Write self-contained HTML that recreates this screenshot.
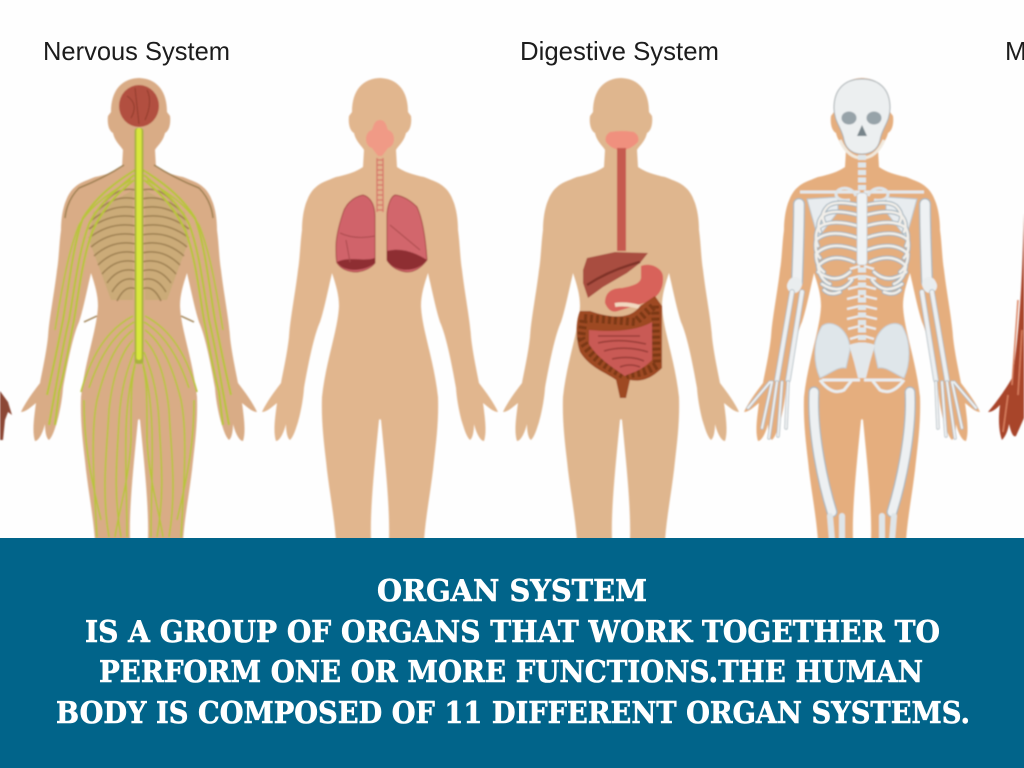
<!DOCTYPE html>
<html><head><meta charset="utf-8"><style>
html,body{margin:0;padding:0;background:#fff}
svg{display:block}
</style></head><body>
<svg width="1024" height="768" viewBox="0 0 1024 768" xmlns="http://www.w3.org/2000/svg">
<defs>
<filter id="s" x="-5%" y="-5%" width="110%" height="110%"><feGaussianBlur stdDeviation="0.7"/></filter>
<path id="half" d="M-1,78 C17,78 28,90 28,112 L31,116 C32,124 30,131 26,133 C24,142 18,146 16,150 L17,167 C24,172 34,175 44,177 C54,181 60,183 64,187 C70,192 72,198 74,203 C77,212 78,222 78,230 C80,245 80,258 82,270 C85,295 90,320 91,337 C93,355 97,372 99,383 C106,392 114,403 118,412 C113,412 107,406 103,403 C105,418 107,432 104,441 C100,441 96,432 94,424 C94,430 93,438 90,440 C86,436 84,428 82,422 C80,415 77,402 76,388 C72,365 66,335 60,322 C56,310 52,290 48,273 C44,285 41,295 41,306 C42,330 54,360 58,397 C59,425 55,450 53,470 C50,495 46,515 44,540 L9,540 C10,510 6,470 1,420 L-1,418 Z"/>
<g id="body"><use href="#half"/><use href="#half" transform="scale(-1,1)"/></g>
<g id="nh" fill="none">
 <path d="M6,190 L46,212 L50,240 L28,300 L6,300Z" fill="#cbab78" stroke="none"/>
 <g stroke="#9c7e50" stroke-width="1.5">
  <path d="M3,190 Q20,186 34,202 M3,199 Q24,194 42,211 M3,208 Q26,203 47,220 M3,217 Q28,212 50,229 M3,226 Q28,221 50,238 M3,235 Q28,230 48,247 M3,244 Q26,239 45,256 M3,253 Q24,248 41,265 M3,262 Q22,257 37,274 M3,271 Q20,266 32,283 M3,280 Q17,275 27,292 M3,289 Q14,284 22,301"/>
  <path d="M15,165 Q35,178 60,188 Q72,200 74,218 M42,316 L55,322"/>
 </g>
 <g stroke="#b9c43a" stroke-width="2.2">
  <path d="M4,170 C20,180 42,195 56,218 C66,245 70,285 76,320 C82,350 86,370 92,395"/>
  <path d="M5,175 C20,188 38,200 50,224 C60,250 64,285 70,320 C76,345 80,370 84,392 L90,425"/>
  <path d="M5,180 C20,192 34,205 46,230 C56,255 60,290 65,320 C70,345 74,370 80,392 L84,425"/>
 </g>
 <g stroke="#b9c43a" stroke-width="1.7">
  <path d="M8,180 C28,192 48,205 60,225 C72,255 78,295 84,330"/>
  <path d="M6,316 C25,326 45,345 58,392 M5,322 C22,332 38,352 50,388"/>
  <path d="M6,330 C20,340 32,360 42,400 C48,430 46,470 42,537"/>
  <path d="M6,340 C16,350 26,372 30,410 C32,450 38,490 30,537"/>
  <path d="M5,352 C10,365 18,385 20,420 C22,460 26,490 18,537"/>
  <path d="M3,360 C7,375 12,395 13,430 C14,470 12,500 12,537"/>
  <path d="M4,366 C8,380 8,400 8,440 C10,480 20,510 24,537"/>
  <path d="M55,400 C55,440 50,470 38,520"/>
 </g>
</g>
<g id="skh">
 <path d="M24,197 L55,199 L44,238 Q32,222 24,212Z" fill="#e8ecef" stroke="#b7c3ca"/>
 <path d="M2,192 L62,192" stroke="#e4e9ec" stroke-width="3" fill="none"/>
 <path d="M6,196 C10,186 24,186 26,194 C26,200 18,201 12,200" stroke="#dfe5e9" stroke-width="3" fill="none"/>
 <g fill="none" stroke-linecap="round">
  <g stroke="#9fb0bb" stroke-width="4.5">
   <path d="M4,205 Q26,200 34,206 Q42,214 38,222 M4,215 Q30,208 40,216 Q46,224 42,232 M4,226 Q32,218 44,228 Q48,238 44,246 M4,238 Q32,228 46,240 Q48,252 42,258 M5,250 Q32,240 46,254 Q46,266 38,272 M8,262 Q30,252 44,266 Q42,280 32,284 M12,272 Q26,285 44,272 M10,280 Q22,296 40,284 M22,292 Q32,296 38,290"/>
  </g>
  <g stroke="#f1eee9" stroke-width="2.6">
   <path d="M4,205 Q26,200 34,206 Q42,214 38,222 M4,215 Q30,208 40,216 Q46,224 42,232 M4,226 Q32,218 44,228 Q48,238 44,246 M4,238 Q32,228 46,240 Q48,252 42,258 M5,250 Q32,240 46,254 Q46,266 38,272 M8,262 Q30,252 44,266 Q42,280 32,284 M12,272 Q26,285 44,272 M10,280 Q22,296 40,284 M22,292 Q32,296 38,290"/>
  </g>
  <path d="M63,204 C63,230 64,255 65,282" stroke="#a9b6bd" stroke-width="12"/>
  <path d="M63,204 C63,230 64,255 65,282" stroke="#eef1f3" stroke-width="9.5"/>
  <path d="M67,284 L68,286" stroke="#e9edef" stroke-width="14"/>
  <path d="M70,292 L85,380 M60,292 L74,380" stroke="#a9b6bd" stroke-width="5.5"/>
  <path d="M70,292 L85,380 M60,292 L74,380" stroke="#eceff1" stroke-width="4"/>
  <path d="M48,392 C50,430 40,480 30,512" stroke="#a9b6bd" stroke-width="11"/>
  <path d="M48,392 C50,430 40,480 30,512" stroke="#edf0f2" stroke-width="8.5"/>
  <path d="M32,516 L30,540 M20,516 L20,540" stroke="#dfe5e8" stroke-width="6"/>
  <path d="M74,382 L76,428 M80,382 L84,436 M85,382 L93,438 M90,382 L100,428 M92,382 L114,408" stroke="#aab6bd" stroke-width="3.4"/>
  <path d="M74,382 L76,428 M80,382 L84,436 M85,382 L93,438 M90,382 L100,428 M92,382 L114,408" stroke="#f0f2f3" stroke-width="2"/>
 </g>
 <path d="M12,350 C12,330 30,318 40,326 C50,342 48,365 42,378 C32,374 24,366 16,368 Z" fill="#dfe6ea" stroke="#c3ccd2"/>
 <path d="M2,380 L40,380 M42,380 Q30,396 18,390 L10,380" fill="none" stroke="#e9edef" stroke-width="3"/>
 <path d="M2,266 L12,269 M2,276 L14,279 M2,286 L14,289 M2,296 L15,299 M2,306 L15,309 M2,316 L15,319 M2,326 L14,329 M2,336 L12,339" stroke="#e8ecee" stroke-width="2.4"/>
</g>
</defs>
<rect width="1024" height="768" fill="#fefefe"/>
<g filter="url(#s)">
 <!-- edge figures -->
 <path d="M0,391 L8,402 L12,415 L8,412 L5,420 L3,440 L0,440Z" fill="#8c4636"/>
 <path d="M1024,213 C1022,280 1020,330 1012,378 C1004,392 994,405 988,412 C993,412 997,408 1000,405 C998,420 999,432 1002,440 C1006,436 1008,430 1009,424 C1011,432 1013,438 1016,436 L1024,418Z" fill="#a8442c"/>
 <path d="M1018,300 L1012,385 M1022,330 L1018,395 M1008,395 L1003,432" stroke="#d9805e" stroke-width="1.5" fill="none"/>
 <!-- nervous -->
 <g transform="translate(139,0)">
  <use href="#body" fill="#d9ac86"/>
  <use href="#nh"/><use href="#nh" transform="scale(-1,1)"/>
  <rect x="-4.5" y="128" width="9" height="236" rx="3" fill="#a9b23c"/>
  <rect x="-2.6" y="128" width="5.2" height="232" rx="2.5" fill="#d8e63c"/>
  <ellipse cx="0" cy="106" rx="20" ry="21" fill="#b2503f"/>
  <path d="M-12,96 Q0,104 -8,118 M8,90 Q14,102 6,120 M-4,88 L0,124" stroke="#8f3a2c" fill="none"/>
 </g>
 <!-- respiratory -->
 <g transform="translate(380,0)"><use href="#body" fill="#e1b68e"/></g>
 <path d="M380,120 C386,120 387,128 388,130 C396,132 396,146 388,148 L382,156 L378,156 L372,148 C364,146 364,132 372,130 C373,128 374,120 380,120Z" fill="#f09a86"/>
 <path d="M377,158 V212 M383,158 V212" stroke="#d8796a" stroke-width="1.4"/>
 <path d="M377,160 H383 M377,165 H383 M377,170 H383 M377,175 H383 M377,180 H383 M377,185 H383 M377,190 H383 M377,195 H383 M377,200 H383 M377,205 H383 M377,210 H383" stroke="#d8796a" stroke-width="1.4"/>
 <path d="M375,217 C375,206 371,197 363,195 C352,197 345,206 343,213 C339,225 336,236 336,247 C336,254 336,259 337,263 C342,270 350,272 357,272 C364,271 371,268 375,263 Z" fill="#d0636a" stroke="#a94a48" stroke-width="1"/>
 <path d="M387,217 C387,208 390,197 395,195 C405,196 412,202 417,207 C424,222 426,245 427,260 C421,268 414,272 407,272 C398,271 391,267 387,260 Z" fill="#d2666c" stroke="#a94a48" stroke-width="1"/>
 <path d="M337,262 C350,256 362,262 375,258 L375,263 C364,272 344,273 337,262Z" fill="#8e2d32"/>
 <path d="M387,251 C402,247 416,253 427,260 C418,272 398,274 387,261Z" fill="#8e2d32"/>
 <path d="M340,233 Q355,240 375,236 M346,240 L350,262 M390,225 Q408,240 420,250" stroke="#a94a4c" fill="none"/>
 <!-- digestive -->
 <g transform="translate(621,0)"><use href="#body" fill="#dfb68e"/></g>
 <path d="M610,132 Q622,130 634,132 Q640,136 638,142 Q630,150 622,150 Q612,150 606,142 Q604,136 610,132Z" fill="#f0907e"/>
 <rect x="617" y="148" width="9" height="103" fill="#c65a50"/>
 <path d="M587,258 L615,252 L648,253 L640,263 L627,273 L603,287 L588,298 L583,283 L583,270Z" fill="#a94e41"/>
 <path d="M587,285 Q610,270 640,262" stroke="#7f3228" stroke-width="2.5" fill="none"/>
 <path d="M641,266 C650,262 663,268 663,277 C664,293 654,300 644,303 L618,311 C612,313 608,310 605,303 C605,292 612,288 622,288 C632,286 640,284 641,278Z" fill="#d8625a"/>
 <path d="M615,305 Q625,303 640,307" stroke="#f2d9c1" stroke-width="4" fill="none"/>
 <path d="M590,311 C610,318 630,320 640,306 L655,296 L662,306 L662,368 C650,380 640,382 630,380 L626,398 L620,398 L616,380 C605,372 590,368 580,352 C575,338 576,320 580,311Z" fill="#9e4a20"/>
 <path d="M584,318 L635,322 L655,305 L657,365 C640,376 632,372 625,376 C610,368 590,358 581,338Z" fill="none" stroke="#5f2c10" stroke-width="8" stroke-dasharray="3 3" opacity=".55"/>
 <path d="M589,330 C610,332 635,332 652,322 L652,360 C640,372 632,372 625,376 C610,366 596,356 589,344Z" fill="#c95a55"/>
 <path d="M598,336 H640 M598,343 Q620,338 646,344 M604,351 Q625,345 648,352 M612,359 Q630,355 644,361 M620,367 Q630,363 640,367" stroke="#9a3c38" stroke-width="1.6" fill="none"/>
 <!-- skeletal -->
 <g transform="translate(862,0)">
  <use href="#body" fill="#e5ae7e"/>
  <use href="#skh"/><use href="#skh" transform="scale(-1,1)"/>
  <path d="M-28,108 C-28,88 -16,79 0,79 C16,79 28,88 28,108 C28,122 20,128 18,140 C16,150 8,154 0,154 C-8,154 -16,150 -18,140 C-20,128 -28,122 -28,108Z" fill="#eceff0" stroke="#a7aeb1" stroke-width="1"/>
  <ellipse cx="-13" cy="118" rx="7.5" ry="6.5" fill="#97a3a9"/>
  <ellipse cx="12" cy="118" rx="7.5" ry="6.5" fill="#97a3a9"/>
  <path d="M0,125 L5,136 L-5,136Z" fill="#77848a"/>
  <path d="M-22,140 Q-14,158 0,158 Q14,158 22,140" stroke="#f1e9dd" stroke-width="3" fill="none"/>
  <path d="M0,155 V345" stroke="#dfe6ea" stroke-width="8" stroke-dasharray="5 2.5"/>
  <rect x="-5" y="193" width="10" height="72" rx="3" fill="#eff2f4" stroke="#c3ccd2" stroke-width=".8"/>
  <path d="M-13,345 Q0,340 13,345 L8,362 L4,378 L-4,378 L-8,362Z" fill="#e3e8eb"/>
 </g>
</g>
<g font-family="'Liberation Sans',sans-serif" font-size="26" fill="#1c1c1c">
 <text x="43" y="60" textLength="187" lengthAdjust="spacingAndGlyphs">Nervous System</text>
 <text x="520" y="60" textLength="199" lengthAdjust="spacingAndGlyphs">Digestive System</text>
 <text x="1005" y="60">M</text>
</g>
<rect x="0" y="538" width="1024" height="230" fill="#01648a"/>
<g font-family="'DejaVu Serif','Liberation Serif',serif" font-weight="bold" font-size="30" fill="#fff" stroke="#fff" stroke-width="0.6">
 <text x="377" y="601" textLength="270" lengthAdjust="spacingAndGlyphs">ORGAN SYSTEM</text>
 <text x="85" y="642" textLength="855" lengthAdjust="spacingAndGlyphs">IS A GROUP OF ORGANS THAT WORK TOGETHER TO</text>
 <text x="99" y="682" textLength="824" lengthAdjust="spacingAndGlyphs">PERFORM ONE OR MORE FUNCTIONS.THE HUMAN</text>
 <text x="56" y="723" textLength="914" lengthAdjust="spacingAndGlyphs">BODY IS COMPOSED OF 11 DIFFERENT ORGAN SYSTEMS.</text>
</g>
</svg>
</body></html>
